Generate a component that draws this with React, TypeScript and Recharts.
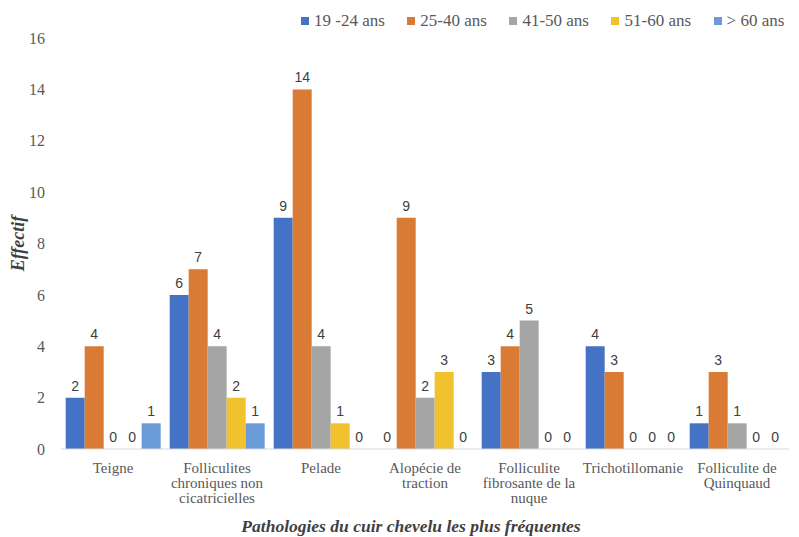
import { Bar, BarChart, LabelList, XAxis, YAxis } from "recharts";

const categories = [
  "Teigne",
  "Folliculites\nchroniques non\ncicatricielles",
  "Pelade",
  "Alopécie de\ntraction",
  "Folliculite\nfibrosante de la\nnuque",
  "Trichotillomanie",
  "Folliculite de\nQuinquaud",
];

const age19to24 = [2, 6, 9, 0, 3, 4, 1];
const age25to40 = [4, 7, 14, 9, 4, 3, 3];
const age41to50 = [0, 4, 4, 2, 5, 0, 1];
const age51to60 = [0, 2, 1, 3, 0, 0, 0];
const age60plus = [1, 1, 0, 0, 0, 0, 0];

const yTicks = [0, 2, 4, 6, 8, 10, 12, 14, 16];

const series = [
  { key: "a", name: "19 -24 ans", color: "#4472C4", values: age19to24 },
  { key: "b", name: "25-40 ans", color: "#D97A35", values: age25to40 },
  { key: "c", name: "41-50 ans", color: "#A5A5A5", values: age41to50 },
  { key: "d", name: "51-60 ans", color: "#F2C12E", values: age51to60 },
  { key: "e", name: "> 60 ans", color: "#6A9BD8", values: age60plus },
];

const data = categories.map((name, i) => {
  const row: Record<string, string | number> = { name };
  series.forEach((s) => {
    row[s.key] = s.values[i];
  });
  return row;
});

const serif = "'Liberation Serif', 'Times New Roman', serif";

function CategoryTick(props: any) {
  const { x, y, payload } = props;
  const lines = String(payload.value).split("\n");
  return (
    <text x={x} y={y} textAnchor="middle" fill="#595959" style={{ fontFamily: serif, fontSize: 15 }}>
      {lines.map((line, i) => (
        <tspan key={i} x={x} dy={i === 0 ? 16 : 15}>
          {line}
        </tspan>
      ))}
    </text>
  );
}

export default function App() {
  return (
    <div style={{ position: "absolute", left: 0, top: 0, width: 799, height: 537, background: "#fff" }}>
      <div
        style={{
          position: "absolute",
          top: 11,
          left: 301,
          display: "flex",
          gap: 22.5,
          fontFamily: serif,
          fontSize: 17,
          color: "#595959",
          whiteSpace: "nowrap",
          zIndex: 2,
        }}
      >
        {series.map((s) => (
          <div key={s.key} style={{ display: "flex", alignItems: "center" }}>
            <span style={{ width: 8, height: 8, background: s.color, marginRight: 5, display: "inline-block" }} />
            {s.name}
          </div>
        ))}
      </div>
      <BarChart
        width={799}
        height={537}
        data={data}
        margin={{ top: 38, right: 10, bottom: 0, left: 0 }}
        barCategoryGap="4.5%"
        barGap={0}
      >
        <XAxis
          dataKey="name"
          height={88}
          interval={0}
          tickLine={false}
          stroke="#D9D9D9"
          tick={<CategoryTick />}
          label={{
            value: "Pathologies du cuir chevelu les plus fréquentes",
            position: "insideBottom",
            offset: 5,
            dx: -14,
            fill: "#404040",
            style: { fontFamily: serif, fontSize: 17.5, fontWeight: "bold", fontStyle: "italic" },
          }}
        />
        <YAxis
          width={61}
          domain={[0, 16]}
          ticks={yTicks}
          axisLine={false}
          tickLine={false}
          tickSize={0}
          tickMargin={16}
          tick={{ fill: "#595959", style: { fontFamily: serif, fontSize: 16 } }}
          label={{
            value: "Effectif",
            angle: -90,
            position: "insideLeft",
            offset: 18,
            fill: "#404040",
            style: { textAnchor: "middle", fontFamily: serif, fontSize: 18, fontWeight: "bold", fontStyle: "italic" },
          }}
        />
        {series.map((s) => (
          <Bar
            key={s.key}
            dataKey={s.key}
            name={s.name}
            fill={s.color}
            minPointSize={0.01}
            isAnimationActive={false}
          >
            <LabelList
              dataKey={s.key}
              position="top"
              offset={7}
              fill="#404040"
              style={{ fontFamily: "'Liberation Sans', Arial, sans-serif", fontSize: 14 }}
            />
          </Bar>
        ))}
      </BarChart>
    </div>
  );
}
